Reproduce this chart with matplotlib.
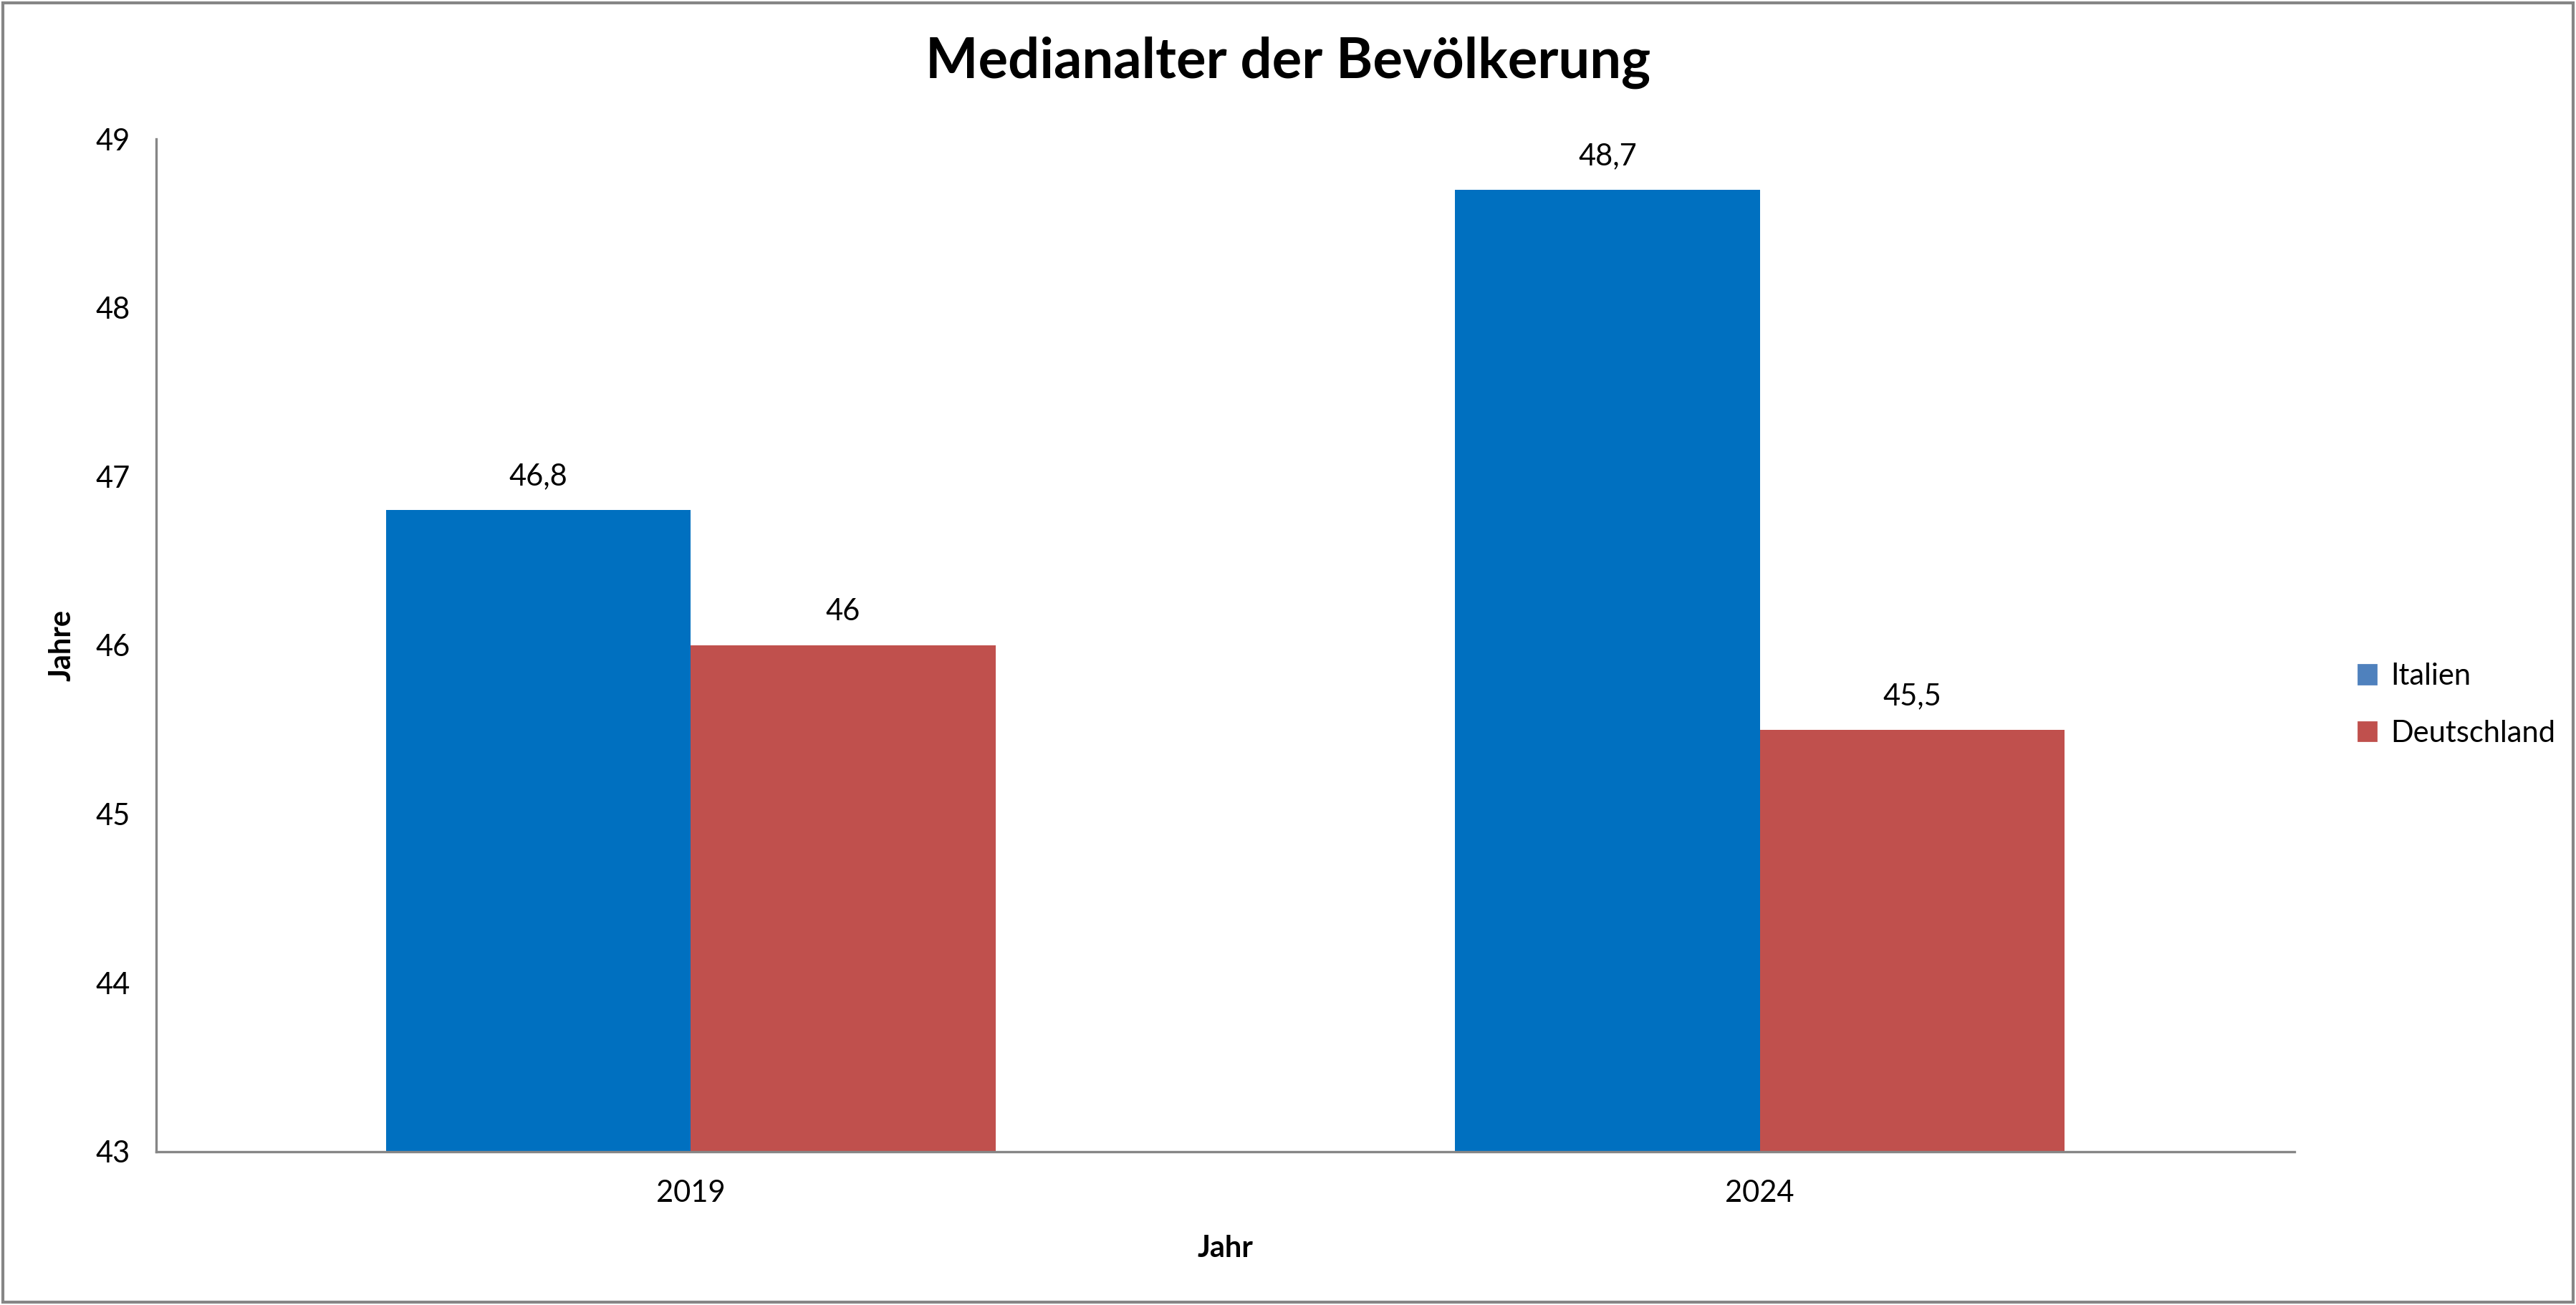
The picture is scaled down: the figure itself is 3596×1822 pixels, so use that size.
import matplotlib
matplotlib.use('Agg')
import numpy as np
import matplotlib.pyplot as plt
from matplotlib.patches import Rectangle, Patch

plt.rcParams['font.family'] = ['Lato', 'DejaVu Sans']

# data
years = ['2019', '2024']
italien = [46.8, 48.7]
deutschland = [46.0, 45.5]
series_names = ['Italien', 'Deutschland']

bar_colors = ['#0070C0', '#C0504D']
legend_colors = ['#4F81BD', '#C0504D']
grey = '#868686'


def fmt(v):
    # German style number labels
    s = ('%.1f' % v).rstrip('0').rstrip('.')
    return s.replace('.', ',')


fig = plt.figure(figsize=(17.98, 9.11), dpi=200)
ax = fig.add_axes([0.0606, 0.1175, 0.8301, 0.776])

x = np.arange(len(years))
w = 0.285
b1 = ax.bar(x - w / 2, italien, w, color=bar_colors[0], bottom=0)
b2 = ax.bar(x + w / 2, deutschland, w, color=bar_colors[1], bottom=0)

for bars, vals in [(b1, italien), (b2, deutschland)]:
    for rect, v in zip(bars, vals):
        ax.annotate(fmt(v), (rect.get_x() + rect.get_width() / 2, v),
                    xytext=(0, 10), textcoords='offset points',
                    ha='center', va='bottom', fontsize=15)

ax.set_xlim(-0.5, 1.5)
ax.set_ylim(43, 49)
ax.set_yticks(range(43, 50))
ax.set_xticks(x)
ax.set_xticklabels(years)
ax.tick_params(axis='both', length=0, labelsize=15)
ax.tick_params(axis='y', pad=13)
ax.tick_params(axis='x', pad=14)

for side in ['top', 'right']:
    ax.spines[side].set_visible(False)
for side in ['left', 'bottom']:
    ax.spines[side].set_color(grey)
    ax.spines[side].set_linewidth(1.2)

ax.set_xlabel('Jahr', fontsize=15, fontweight='bold', labelpad=14)
ax.set_ylabel('Jahre', fontsize=15, fontweight='bold', labelpad=10)

fig.suptitle('Medianalter der Bevölkerung', fontsize=28, fontweight='bold',
             y=0.952, va='center')

handles = [Patch(color=c, label=n) for c, n in zip(legend_colors, series_names)]
fig.legend(handles=handles, loc='center left', bbox_to_anchor=(0.905, 0.46),
           frameon=False, fontsize=15, handlelength=0.6, handleheight=0.6,
           handletextpad=0.5, labelspacing=1.0)

# grey frame around the whole chart
fig.patches.append(Rectangle((0.001, 0.002), 0.998, 0.996, transform=fig.transFigure,
                             fill=False, edgecolor=grey, linewidth=1.5))

fig.savefig('out.png', dpi=200)
